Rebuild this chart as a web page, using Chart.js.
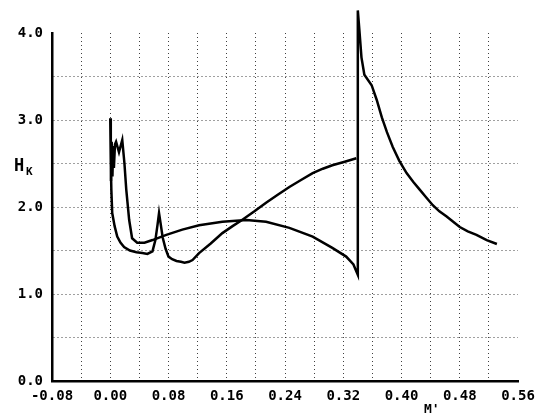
<!DOCTYPE html>
<html>
<head>
<meta charset="utf-8">
<script src="https://cdn.jsdelivr.net/npm/chart.js@4"></script>
<style>
html,body{margin:0;padding:0;background:#fff;}
#wrap{width:546px;height:414px;position:relative;}
</style>
</head>
<body>
<div id="wrap"><canvas id="c" width="546" height="414"></canvas></div>
<script>
// Curve 1 (spike at 0.00, sharp peak near 0.07, rising to 2.56)
const curve1M = [0.000,0.0005,0.0010,0.0015,0.0027,0.0060,0.0096,0.0140,0.0190,0.0270,0.0360,0.0440,0.0510,0.0580,0.0620,0.0650,0.0670,0.0690,0.0720,0.0760,0.0800,0.0850,0.0910,0.0970,0.1020,0.1080,0.1130,0.1220,0.1380,0.1540,0.1680,0.1810,0.1980,0.2140,0.2300,0.2460,0.2620,0.2780,0.2920,0.3050,0.3220,0.3380];
const curve1H = [3.02,2.80,2.50,2.20,1.93,1.78,1.66,1.59,1.54,1.50,1.48,1.47,1.46,1.49,1.62,1.80,1.93,1.82,1.65,1.52,1.43,1.40,1.38,1.37,1.36,1.37,1.39,1.47,1.58,1.70,1.78,1.85,1.95,2.05,2.14,2.23,2.31,2.39,2.44,2.48,2.52,2.56];
// Curve 2 (jagged start, gentle hump, then jump and decay)
const curve2M = [0.0010,0.0020,0.0030,0.0040,0.0050,0.0065,0.0080,0.0120,0.0165,0.0195,0.0220,0.0260,0.0300,0.0370,0.0470,0.0580,0.0770,0.0990,0.1220,0.1540,0.1870,0.2140,0.2460,0.2780,0.3050,0.3240,0.3340,0.3400,0.3400,0.3420,0.3450,0.3490,0.3590,0.3660,0.3730,0.3800,0.3880,0.3970,0.4070,0.4160,0.4250,0.4340,0.4430,0.4520,0.4620,0.4710,0.4800,0.4910,0.5030,0.5170,0.5310];
const curve2H = [2.30,2.75,2.35,2.70,2.45,2.72,2.75,2.63,2.77,2.50,2.20,1.85,1.64,1.59,1.59,1.62,1.68,1.74,1.79,1.83,1.85,1.83,1.76,1.66,1.53,1.43,1.34,1.22,4.26,4.05,3.72,3.52,3.40,3.23,3.03,2.86,2.69,2.53,2.39,2.29,2.20,2.11,2.02,1.95,1.89,1.83,1.77,1.72,1.68,1.62,1.575];
// Tick labels
const xTickLabels = ["-0.08","0.00","0.08","0.16","0.24","0.32","0.40","0.48","0.56"];
const yTickLabels = ["0.0","1.0","2.0","3.0","4.0"];
const yAxisTitle = {main:"H", sub:"K"};
const xAxisTitle = "M'";

const toPts = (xs, ys) => xs.map((x, i) => ({x: x, y: ys[i]}));

const FONT = "'DejaVu Sans Mono', monospace";
const gridCol = (ctx, hideVal) => {
  const v = ctx.tick ? ctx.tick.value : null;
  if (v === null) return 'rgba(0,0,0,0)';
  if (Math.abs(v - hideVal[0]) < 1e-6 || Math.abs(v - hideVal[1]) < 1e-6) return 'rgba(0,0,0,0)';
  return 'rgba(0,0,0,0.75)';
};

const titlePlugin = {
  id: 'titles',
  afterDraw(chart) {
    const c = chart.ctx;
    c.save();
    c.fillStyle = '#000';
    c.textBaseline = 'alphabetic';
    c.font = "bold 17px " + FONT;
    c.fillText(yAxisTitle.main, 14, 171);
    c.font = "bold 11px " + FONT;
    c.fillText(yAxisTitle.sub, 26, 175);
    c.font = "bold 13px " + FONT;
    c.fillText(xAxisTitle, 424, 413);
    c.restore();
  }
};

new Chart(document.getElementById('c'), {
  type: 'scatter',
  data: {
    datasets: [
      {data: toPts(curve1M, curve1H), showLine: true, borderColor: '#000', borderWidth: 2.5, pointRadius: 0, tension: 0, fill: false, clip: false},
      {data: toPts(curve2M, curve2H), showLine: true, borderColor: '#000', borderWidth: 2.5, pointRadius: 0, tension: 0, fill: false, clip: false}
    ]
  },
  options: {
    responsive: false,
    animation: false,
    layout: {padding: {top: 33, right: 28, left: 0, bottom: 0}},
    plugins: {legend: {display: false}, tooltip: {enabled: false}},
    scales: {
      x: {
        type: 'linear', min: -0.08, max: 0.56,
        afterFit(s) { s.height = 33; },
        border: {display: true, color: '#000', width: 2.5, dash: [1, 3]},
        grid: {color: ctx => gridCol(ctx, [-0.08, 0.56]), lineWidth: 1, drawTicks: false},
        ticks: {
          stepSize: 0.04, autoSkip: false, maxRotation: 0, padding: 7,
          color: '#000', font: {family: FONT, weight: 'bold', size: 14},
          callback: function(v) {
            const k = Math.round(v * 100);
            if (k % 8 !== 0) return '';
            const idx = Math.round((k + 8) / 8);
            return xTickLabels[idx] !== undefined ? xTickLabels[idx] : '';
          }
        }
      },
      y: {
        type: 'linear', min: 0, max: 4,
        afterFit(s) { s.width = 52; },
        border: {display: true, color: '#000', width: 2.5, dash: [1, 3]},
        grid: {color: ctx => gridCol(ctx, [0, 4]), lineWidth: 1, drawTicks: false},
        ticks: {
          stepSize: 0.5, autoSkip: false, padding: 9,
          color: '#000', font: {family: FONT, weight: 'bold', size: 14},
          callback: function(v) {
            const k = Math.round(v * 10);
            if (k % 10 !== 0) return '';
            return yTickLabels[k / 10] !== undefined ? yTickLabels[k / 10] : '';
          }
        }
      }
    }
  },
  plugins: [titlePlugin]
});
</script>
</body>
</html>
